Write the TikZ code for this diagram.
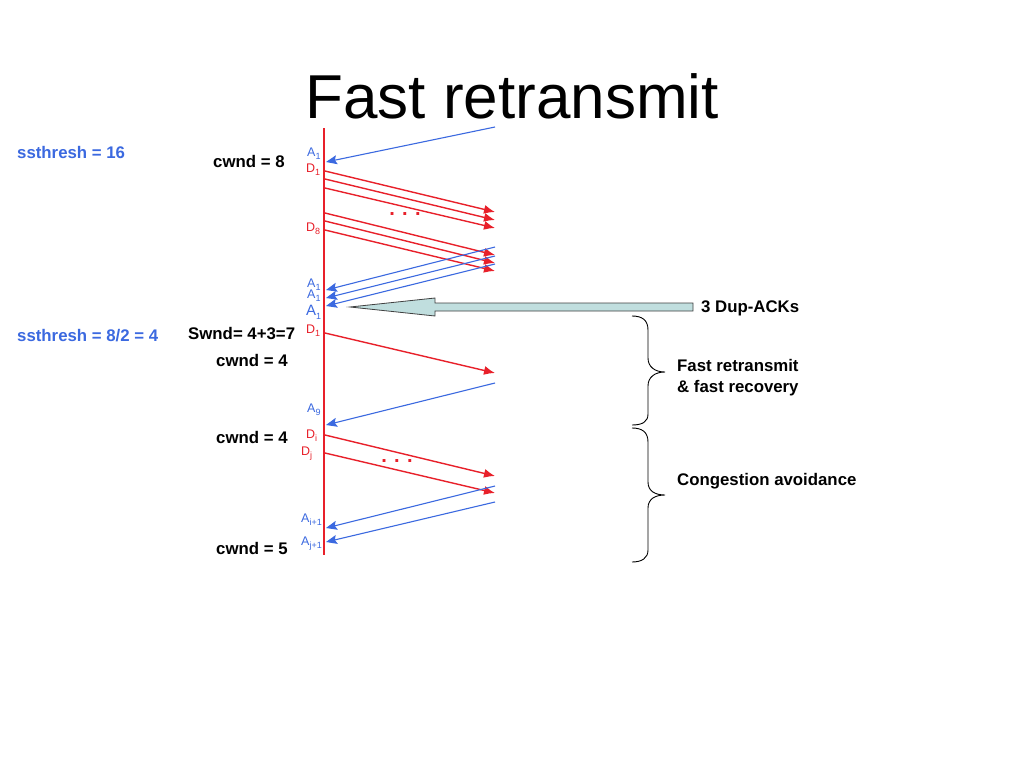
\documentclass[tikz,border=0pt]{standalone}
\usepackage{fontspec}
\setmainfont{Liberation Sans}
\usetikzlibrary{arrows.meta}
\definecolor{myred}{RGB}{232,32,42}
\definecolor{myblue}{RGB}{59,105,224}
\definecolor{arrfill}{RGB}{192,222,222}
\newcommand\mysub[1]{\raisebox{-0.28em}{\fontsize{9}{9}\selectfont #1}}
\tikzset{
  timeline/.style={myred,line width=1.4pt},
  datamsg/.style={myred,line width=1.4pt,-{Latex[length=11pt,width=9pt]}},
  ackmsg/.style={myblue,line width=1.1pt,-{Stealth[length=11pt,width=9pt,inset=2pt]}},
  lbl/.style={font=\fontsize{12.5}{14}\selectfont,inner sep=0pt,anchor=base west},
  dlbl/.style={lbl,text=myred},
  albl/.style={lbl,text=myblue},
  bold/.style={font=\fontsize{16.8}{20}\selectfont\bfseries,inner sep=0pt,anchor=base west},
  bluebold/.style={bold,text=myblue},
  bracestyle/.style={black,line width=0.9pt},
  dots/.style={myred,font=\fontsize{20}{20}\selectfont\bfseries,inner sep=0pt}
}
\begin{document}
\begin{tikzpicture}[x=1pt,y=-1pt]
\useasboundingbox[fill=white] (0,0) rectangle (1024,768);

% title
\node[font=\fontsize{62}{66}\selectfont,inner sep=0pt,anchor=base] (title) at (512,118) {Fast retransmit};

% timeline
\coordinate (ttop) at (324,128);
\coordinate (tbot) at (324,555);
\draw[timeline] (ttop) -- (tbot);

% first ACK
\coordinate (a0s) at (495,127); \coordinate (a0e) at (326,162);
\draw[ackmsg] (a0s) -- (a0e);

% D1..D8 window
\foreach \n/\ys/\ye in {d1/171/212, d2/179/220, d3/188/228, d6/213/255, d7/221/263, d8/230/271}{
  \coordinate (\n s) at (325,\ys); \coordinate (\n e) at (495,\ye);
  \draw[datamsg] (\n s) -- (\n e);
}
\node[dots] (dotsa) at (405,214) {. . .};

% duplicate ACKs
\foreach \n/\ys/\ye in {b1/247/290, b2/256/298, b3/264/306}{
  \coordinate (\n s) at (495,\ys); \coordinate (\n e) at (326,\ye);
  \draw[ackmsg] (\n s) -- (\n e);
}

% big arrow 3 Dup-ACKs
\draw[fill=arrfill,draw=black!75,line width=0.8pt]
  (693,303) -- (435,303) -- (435,298) -- (350,307) -- (435,316) -- (435,311) -- (693,311) -- cycle;
\node[bold] (dup) at (701,312) {3 Dup-ACKs};

% retransmit D1
\coordinate (r1s) at (325,333); \coordinate (r1e) at (495,373);
\draw[datamsg] (r1s) -- (r1e);
% A9
\coordinate (a9s) at (495,383); \coordinate (a9e) at (326,425);
\draw[ackmsg] (a9s) -- (a9e);
% Di, Dj
\coordinate (dis) at (325,435); \coordinate (die) at (495,476);
\draw[datamsg] (dis) -- (die);
\coordinate (djs) at (325,453); \coordinate (dje) at (495,493);
\draw[datamsg] (djs) -- (dje);
\node[dots] (dotsb) at (397,461) {. . .};
% A_{i+1}, A_{j+1}
\coordinate (ais) at (495,486); \coordinate (aie) at (326,528);
\draw[ackmsg] (ais) -- (aie);
\coordinate (ajs) at (495,502); \coordinate (aje) at (326,542);
\draw[ackmsg] (ajs) -- (aje);

% small labels
\node[albl] (la0) at (307,156) {A\mysub{1}};
\node[dlbl] (ld1) at (306,172) {D\mysub{1}};
\node[dlbl] (ld8) at (306,231) {D\mysub{8}};
\node[albl] (lb1) at (307,287) {A\mysub{1}};
\node[albl] (lb2) at (307,298) {A\mysub{1}};
\node[albl,font=\fontsize{15}{16}\selectfont] (lb3) at (306,315) {A\mysub{1}};
\node[dlbl] (lr1) at (306,333) {D\mysub{1}};
\node[albl] (la9) at (307,412) {A\mysub{9}};
\node[dlbl] (ldi) at (306,438) {D\mysub{i}};
\node[dlbl] (ldj) at (301,455) {D\mysub{j}};
\node[albl] (lai) at (301,522) {A\mysub{i+1}};
\node[albl] (laj) at (301,545) {A\mysub{j+1}};

% left texts
\node[bluebold] (ss1) at (17,158) {ssthresh = 16};
\node[bluebold] (ss2) at (17,341) {ssthresh = 8/2 = 4};
\node[bold] (cw8) at (213,167) {cwnd = 8};
\node[bold] (swnd) at (188,339) {Swnd= 4+3=7};
\node[bold] (cw4a) at (216,366) {cwnd = 4};
\node[bold] (cw4b) at (216,443) {cwnd = 4};
\node[bold] (cw5) at (216,554) {cwnd = 5};

% braces
\draw[bracestyle] (632,316) .. controls (642,316) and (648,320) .. (648,330) -- (648,358)
  .. controls (648,367) and (655,372) .. (665,372)
  .. controls (655,372) and (648,377) .. (648,386) -- (648,414)
  .. controls (648,422) and (642,425) .. (632,425);
\draw[bracestyle] (632,428) .. controls (642,428) and (648,432) .. (648,442) -- (648,482)
  .. controls (648,491) and (655,495) .. (665,495)
  .. controls (655,495) and (648,499) .. (648,508) -- (648,550)
  .. controls (648,558) and (642,562) .. (632,562);

\node[bold] (fr1) at (677,371) {Fast retransmit};
\node[bold] (fr2) at (677,392) {\& fast recovery};
\node[bold] (ca) at (677,485) {Congestion avoidance};
\end{tikzpicture}
\end{document}
